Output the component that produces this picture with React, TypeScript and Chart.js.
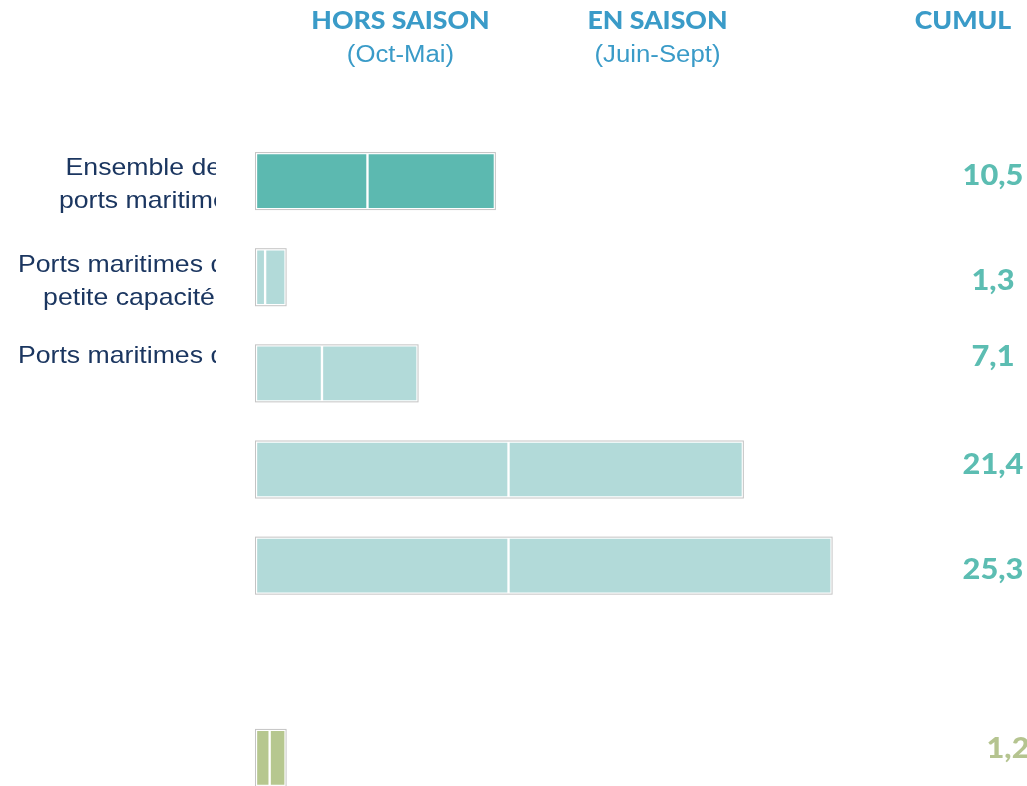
import { useEffect, useRef } from "react";
import { Chart, registerables } from "chart.js";

Chart.register(...registerables);

// ---------- DATA ----------
const categories: string[][] = [
  ["Ensemble des", "ports maritimes"],
  ["Ports maritimes de", "petite capacité"],
  ["Ports maritimes de"],
  [""],
  [""],
  [""],
  [""],
];
const horsSaison: (number | null)[] = [4.9, 0.4, 2.9, 11.1, 11.1, null, 0.6];
const enSaison: (number | null)[] = [5.6, 0.9, 4.2, 10.3, 14.2, null, 0.7];
const cumul: (number | null)[] = [10.5, 1.3, 7.1, 21.4, 25.3, null, 1.2];
const headers = ["HORS SAISON", "EN SAISON", "CUMUL"];
const subHeaders = ["(Oct-Mai)", "(Juin-Sept)", ""];

// ---------- STYLE / LAYOUT ----------
const W = 1027;
const H = 810;
const X_MAX = 30;
const BAR_THICKNESS = 56;
const DARK = "#5cb9b0";
const LIGHT = "#b2dad9";
const GREEN = "#b6c78f";
const rowColors = [DARK, LIGHT, LIGHT, LIGHT, LIGHT, LIGHT, GREEN];
const cumulColors = ["#5cbdb2", "#5cbdb2", "#5cbdb2", "#5cbdb2", "#5cbdb2", "#5cbdb2", "#b5c490"];
const HEADER_BLUE = "#3a9bc8";
const NAVY = "#1b3660";
const SX = 1.11;
const headerX = [400.5, 657.5, 963];
const cumulX = 993;
const cumulDx = [0, 0, 0, 0, 0, 0, 15];
const cumulDy = [4, 13, -7, 4, 13, 0, 0];
const labelCx = [150, 129, 129, 129, 129, 129, 129];
const labelDy = [-6, -5, -10, 0, 0, 0, 0];
const LABEL_LINE = 33;
const LABEL_CLIP = 216;

function drawText(
  ctx: CanvasRenderingContext2D,
  text: string,
  x: number,
  baseline: number,
  font: string,
  color: string,
  sx: number
) {
  ctx.save();
  ctx.translate(x, baseline);
  ctx.scale(sx, 1);
  ctx.font = font;
  ctx.fillStyle = color;
  ctx.textAlign = "center";
  ctx.textBaseline = "alphabetic";
  ctx.fillText(text, 0, 0);
  ctx.restore();
}

const fmt = (v: number) => v.toFixed(1).replace(".", ",");

const overlayPlugin = {
  id: "overlay",
  afterDatasetsDraw(chart: any) {
    const ctx: CanvasRenderingContext2D = chart.ctx;
    const xs = chart.scales.x;
    const ys = chart.scales.y;

    // outer grey outline around each stacked bar
    ctx.save();
    ctx.strokeStyle = "#c4c4c4";
    ctx.lineWidth = 1;
    categories.forEach((_, i) => {
      const total = (horsSaison[i] ?? 0) + (enSaison[i] ?? 0);
      if (!total) return;
      const x0 = xs.getPixelForValue(0);
      const x1 = xs.getPixelForValue(total);
      const yc = ys.getPixelForValue(i);
      ctx.strokeRect(x0 - 0.5, yc - BAR_THICKNESS / 2 - 0.5, x1 - x0 + 1, BAR_THICKNESS + 1);
    });
    ctx.restore();

    // headers
    headers.forEach((h, i) => {
      drawText(ctx, h, headerX[i], 29, "900 24px Lato", HEADER_BLUE, SX);
      if (subHeaders[i]) {
        drawText(ctx, subHeaders[i], headerX[i], 62, "23px 'Liberation Sans', Arial", HEADER_BLUE, 1.12);
      }
    });

    // category labels (clipped)
    ctx.save();
    ctx.beginPath();
    ctx.rect(0, 0, LABEL_CLIP, H);
    ctx.clip();
    categories.forEach((lines, i) => {
      const yc = ys.getPixelForValue(i);
      lines.forEach((line, j) => {
        if (!line) return;
        drawText(
          ctx,
          line,
          labelCx[i],
          yc + labelDy[i] + j * LABEL_LINE,
          "24px 'Liberation Sans', Arial",
          NAVY,
          SX
        );
      });
    });
    ctx.restore();

    // cumul values
    cumul.forEach((v, i) => {
      if (v == null) return;
      const yc = ys.getPixelForValue(i);
      drawText(ctx, fmt(v), cumulX + cumulDx[i], yc + cumulDy[i], "900 28px Lato", cumulColors[i], 1.1);
    });
  },
};

export default function App() {
  const ref = useRef<HTMLCanvasElement | null>(null);

  useEffect(() => {
    if (!ref.current) return;
    const chart = new Chart(ref.current, {
      type: "bar",
      data: {
        labels: categories.map((c) => c.join(" ")),
        datasets: [
          {
            label: "Hors saison",
            data: horsSaison as any,
            backgroundColor: rowColors,
            borderColor: "#ffffff",
            borderWidth: 1.5,
            borderSkipped: false,
            barThickness: BAR_THICKNESS,
          },
          {
            label: "En saison",
            data: enSaison as any,
            backgroundColor: rowColors,
            borderColor: "#ffffff",
            borderWidth: 1.5,
            borderSkipped: false,
            barThickness: BAR_THICKNESS,
          },
        ],
      },
      options: {
        indexAxis: "y",
        responsive: false,
        animation: false,
        devicePixelRatio: 1,
        layout: { padding: { left: 256, right: W - 256 - X_MAX * 22.75, top: 133, bottom: H - 806 } },
        plugins: { legend: { display: false }, tooltip: { enabled: false }, title: { display: false } },
        scales: {
          x: { stacked: true, min: 0, max: X_MAX, display: false, grid: { display: false } },
          y: { stacked: true, display: false, grid: { display: false } },
        },
      },
      plugins: [overlayPlugin],
    });
    return () => chart.destroy();
  }, []);

  return (
    <div
      style={{
        position: "fixed",
        left: 0,
        top: 0,
        width: W,
        height: 786,
        overflow: "hidden",
        background: "#ffffff",
      }}
    >
      <canvas ref={ref} width={W} height={H} style={{ display: "block" }} />
    </div>
  );
}
